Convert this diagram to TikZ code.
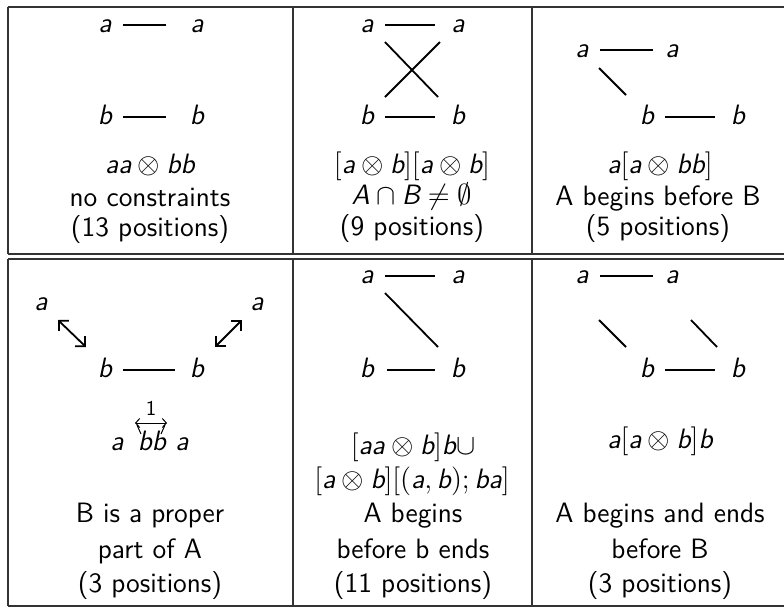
\documentclass[tikz,border=0pt]{standalone}
\usepackage{amsmath}
\usepackage{tikz}
\usetikzlibrary{arrows.meta}

\newcommand{\mv}[1]{\text{\slshape #1}}

\tikzset{
  letter/.style={inner sep=0pt, text height=7.5pt, text depth=0pt},
  txt/.style={inner sep=0pt, anchor=base},
  link/.style={line width=0.9pt},
  rule/.style={line width=0.7pt, black!80},
}

\begin{document}
\begin{tikzpicture}[x=0.5pt, y=-0.5pt,
  font=\sffamily\fontsize{14}{17}\selectfont,
  >={Straight Barb[length=3.5pt,width=7pt]}]
\useasboundingbox (0,0) rectangle (784,607);

% table
\draw[rule] (8,7) -- (784,7);
\draw[rule] (8,254) -- (784,254);
\draw[rule] (8,259) -- (784,259);
\draw[rule] (8,606) -- (784,606);
\foreach \x in {8,293,532} {
  \draw[rule] (\x,7) -- (\x,254);
  \draw[rule] (\x,259) -- (\x,606);
}

%No constraints
\node[letter] (nc-a1) at (105,25) {$\mv{a}$};
\node[letter] (nc-a2) at (197,25) {$\mv{a}$};
\node[letter] (nc-b1) at (105,117) {$\mv{b}$};
\node[letter] (nc-b2) at (197,117) {$\mv{b}$};
\draw[link] ([shift={(18,0)}]nc-a1.center) -- ([shift={(-31,0)}]nc-a2.center);
\draw[link] ([shift={(18,0)}]nc-b1.center) -- ([shift={(-31,0)}]nc-b2.center);
\node[txt] (nc-f) at (150,173) {$\mv{aa}\otimes\mv{bb}$};
\node[txt] (nc-t1) at (150,206) {no constraints};
\node[txt] (nc-t2) at (150,236) {(13 positions)};

%Overlap
\node[letter] (ov-a1) at (367,25) {$\mv{a}$};
\node[letter] (ov-a2) at (458,25) {$\mv{a}$};
\node[letter] (ov-b1) at (367,117) {$\mv{b}$};
\node[letter] (ov-b2) at (458,117) {$\mv{b}$};
\draw[link] ([shift={(18,0)}]ov-a1.center) -- ([shift={(-23,0)}]ov-a2.center);
\draw[link] ([shift={(18,0)}]ov-b1.center) -- ([shift={(-23,0)}]ov-b2.center);
\draw[link] ([shift={(18,17)}]ov-a1.center) -- ([shift={(-20,-20)}]ov-b2.center);
\draw[link] ([shift={(-18,17)}]ov-a2.center) -- ([shift={(18,-20)}]ov-b1.center);
\node[txt] (ov-f) at (412,173) {$[\mv{a}\otimes\mv{b}][\mv{a}\otimes\mv{b}]$};
\node[txt] (ov-t1) at (412,204) {$\mv{A}\cap\mv{B}\neq\emptyset$};
\node[txt] (ov-t2) at (412,235) {(9 positions)};

%Begins before
\node[letter] (bb-a1) at (582,50) {$\mv{a}$};
\node[letter] (bb-a2) at (672,50) {$\mv{a}$};
\node[letter] (bb-b1) at (647,117) {$\mv{b}$};
\node[letter] (bb-b2) at (738,117) {$\mv{b}$};
\draw[link] ([shift={(18,0)}]bb-a1.center) -- ([shift={(-19,0)}]bb-a2.center);
\draw[link] ([shift={(18,0)}]bb-b1.center) -- ([shift={(-23,0)}]bb-b2.center);
\draw[link] ([shift={(17,18)}]bb-a1.center) -- ([shift={(-21,-22)}]bb-b1.center);
\node[txt] (bb-f) at (660,173) {$\mv{a}[\mv{a}\otimes\mv{bb}]$};
\node[txt] (bb-t1) at (658,205) {A begins before B};
\node[txt] (bb-t2) at (658,235) {(5 positions)};

%Proper part
\node[letter] (pp-a1) at (41,303) {$\mv{a}$};
\node[letter] (pp-a2) at (257,303) {$\mv{a}$};
\node[letter] (pp-b1) at (105,370) {$\mv{b}$};
\node[letter] (pp-b2) at (197,370) {$\mv{b}$};
\draw[link] ([shift={(18,0)}]pp-b1.center) -- ([shift={(-22,0)}]pp-b2.center);
\draw[link,<->] ([shift={(17,17)}]pp-a1.center) -- ([shift={(-19,-23)}]pp-b1.center);
\draw[link,<->] ([shift={(18,-23)}]pp-b2.center) -- ([shift={(-15,17)}]pp-a2.center);
\node[txt] (pp-l) at (117,450) {$\mv{a}$};
\node[txt] (pp-m) at (152,450) {$\mv{bb}$};
\node[txt] (pp-r) at (182,450) {$\mv{a}$};
\draw[line width=0.5pt,>={Straight Barb[length=2pt,width=4.5pt]},<->]
  ([shift={(-17,-27)}]pp-m.base) -- ([shift={(15,-27)}]pp-m.base);
\draw[line width=0.5pt] ([shift={(-15,-25)}]pp-m.base) -- ([shift={(-11,-16)}]pp-m.base);
\draw[line width=0.5pt] ([shift={(13,-25)}]pp-m.base) -- ([shift={(9,-16)}]pp-m.base);
\node[txt,font=\sffamily\fontsize{10.5}{12}\selectfont] (pp-one) at (151,415) {1};
\node[txt] (pp-t1) at (150,522) {B is a proper};
\node[txt] (pp-t2) at (150,558) {part of A};
\node[txt] (pp-t3) at (150,592) {(3 positions)};

%Begins before b ends
\node[letter] (be-a1) at (367,276) {$\mv{a}$};
\node[letter] (be-a2) at (458,276) {$\mv{a}$};
\node[letter] (be-b1) at (367,370) {$\mv{b}$};
\node[letter] (be-b2) at (458,370) {$\mv{b}$};
\draw[link] ([shift={(18,0)}]be-a1.center) -- ([shift={(-23,0)}]be-a2.center);
\draw[link] ([shift={(20,0)}]be-b1.center) -- ([shift={(-23,0)}]be-b2.center);
\draw[link] ([shift={(18,17)}]be-a1.center) -- ([shift={(-20,-23)}]be-b2.center);
\node[txt] (be-f1) at (413,454) {$[\mv{aa}\otimes\mv{b}]\mv{b}\cup$};
\node[txt] (be-f2) at (412,488) {$[\mv{a}\otimes\mv{b}][(\mv{a},\mv{b});\mv{ba}]$};
\node[txt] (be-t1) at (413,522) {A begins};
\node[txt] (be-t2) at (413,558) {before b ends};
\node[txt] (be-t3) at (413,592) {(11 positions)};

%Begins and ends before
\node[letter] (ab-a1) at (582,276) {$\mv{a}$};
\node[letter] (ab-a2) at (672,276) {$\mv{a}$};
\node[letter] (ab-b1) at (647,370) {$\mv{b}$};
\node[letter] (ab-b2) at (738,370) {$\mv{b}$};
\draw[link] ([shift={(18,0)}]ab-a1.center) -- ([shift={(-19,0)}]ab-a2.center);
\draw[link] ([shift={(18,0)}]ab-b1.center) -- ([shift={(-23,0)}]ab-b2.center);
\draw[link] ([shift={(17,44)}]ab-a1.center) -- ([shift={(-21,-23)}]ab-b1.center);
\draw[link] ([shift={(19,44)}]ab-a2.center) -- ([shift={(-21,-23)}]ab-b2.center);
\node[txt] (ab-f) at (660,448) {$\mv{a}[\mv{a}\otimes\mv{b}]\mv{b}$};
\node[txt] (ab-t1) at (660,522) {A begins and ends};
\node[txt] (ab-t2) at (660,558) {before B};
\node[txt] (ab-t3) at (660,592) {(3 positions)};
\end{tikzpicture}
\end{document}
